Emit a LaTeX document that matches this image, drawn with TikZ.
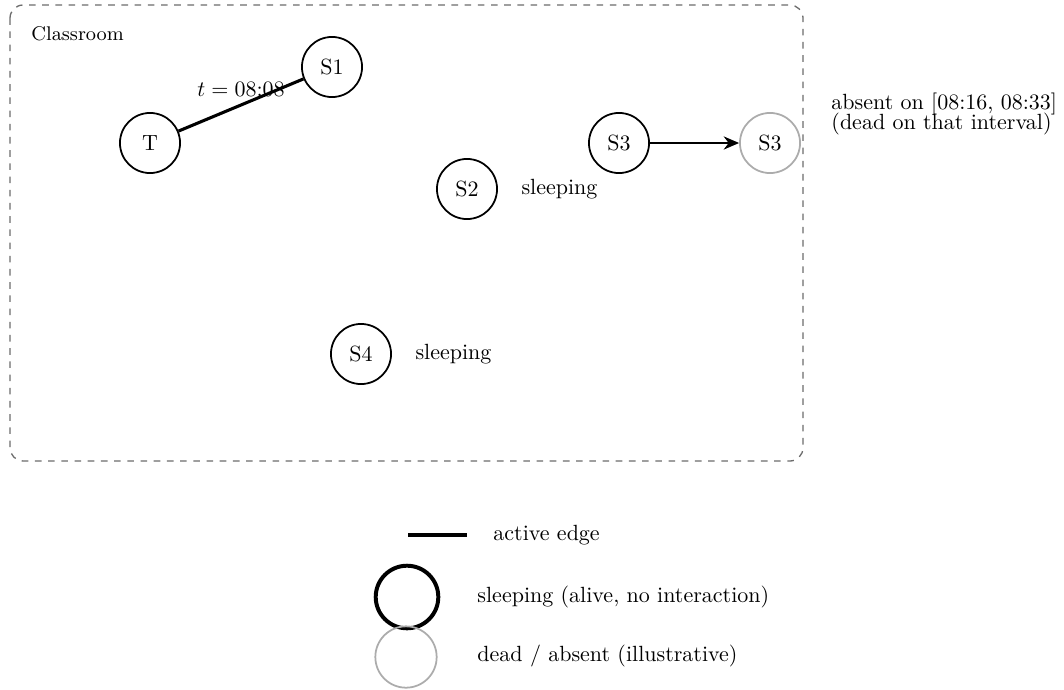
\documentclass[tikz,border=0pt]{standalone}
\usepackage{amsmath,amssymb}
\usepackage{tikz}
\usetikzlibrary{positioning,arrows.meta}
\tikzset{
  pupil/.style={draw,circle,thick,minimum size=0.96cm,inner sep=0pt},
  gone/.style={pupil,draw=gray!65},
  note/.style={anchor=west,inner sep=0pt}
}

\begin{document}
\begin{tikzpicture}[x=0.01597cm,y=-0.01597cm]
	\useasboundingbox (0,0) rectangle (1064,689);
	% classroom frame
	\draw[dashed,gray!85!black,semithick,rounded corners=6] (10,5) rectangle (803,461);
	\node[note,font=\small] (room) at (31,34) {Classroom};

	\node[pupil](T) at (150,143) {T};
	\node[pupil](S1) at (332,67) {S1};
	\node[pupil](S2) at (467,189) {S2};
	\node[pupil](S3) at (619,143) {S3};
	\node[gone](S3b) at (770,143) {S3};
	\node[pupil](S4) at (361,354) {S4};

	\node[note,right=0.37cm of S2] (z2) {sleeping};
	\node[note,right=0.37cm of S4] (z4) {sleeping};
	\node[note,align=left] (abs) at (831,114) {absent on [08:16, 08:33]\\[-2.5pt](dead on that interval)};

	\draw[line width=1.4pt] (T) -- node[above]{$t=08{:}08$} (S1);
	\draw[thick,-{Stealth[length=7pt,width=6pt]}] (S3) -- (S3b);

	% legend
	\coordinate (la) at (408,535);
	\coordinate (lb) at (467,535);
	\draw[line width=1.4pt] (la) -- (lb);
	\node[note] (ledge) at (493,535) {active edge};
	\node[pupil,line width=1.8pt,minimum size=1.0cm] (lsleep) at (407,597) {};
	\node[note] (tsleep) at (477,597) {sleeping (alive, no interaction)};
	\node[gone,minimum size=0.98cm] (ldead) at (406,657) {};
	\node[note] (tdead) at (477,656) {dead / absent (illustrative)};
\end{tikzpicture}
\end{document}
